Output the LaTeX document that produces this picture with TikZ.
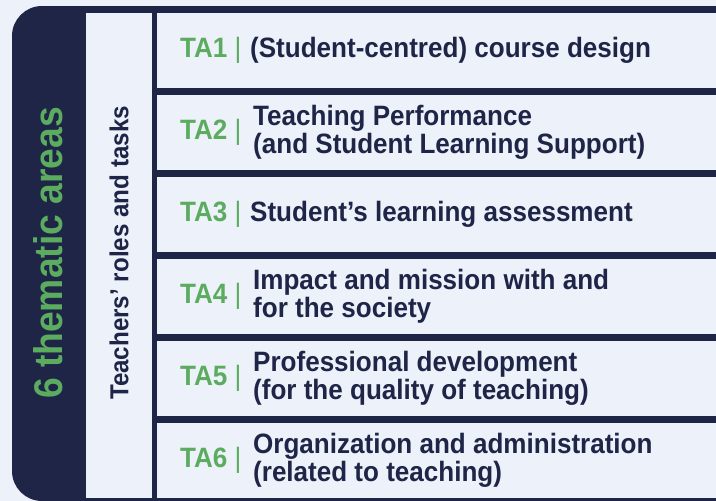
\documentclass[tikz,border=0pt]{standalone}
\usepackage{fontspec}
\setmainfont{Liberation Sans}[FakeStretch=0.93]
\usepackage{tikz}
\definecolor{tanavy}{RGB}{31,37,71}
\definecolor{tagreen}{RGB}{92,172,96}
\definecolor{tabg}{RGB}{236,241,250}
\tikzset{
  talabel/.style={anchor=west,inner sep=0pt,text=tagreen,font=\fontsize{28}{28}\selectfont\bfseries},
  tatext/.style={anchor=west,inner sep=0pt,align=left,text=tanavy,font=\fontsize{28}{27.5}\selectfont\bfseries},
  rowline/.style={tanavy,line width=6.5pt},
}

\begin{document}
\begin{tikzpicture}[x=1pt,y=-1pt]
          \fill [tabg] (0,0) rectangle (716,501);
          \useasboundingbox (0,0) rectangle (716,501);
          \fill [tanavy,rounded corners=30pt] (12,6) rectangle (130,501);
          \fill [tabg] (86,6) rectangle (154,501);
          \draw [rowline] (80,9.5)--(716,9.5);
          \draw [rowline] (80,501.5)--(716,501.5);
          \foreach \y in {91.5,173.5,255.5,337.5,419.5}
            \draw [rowline] (154,\y)--(716,\y);
          \draw [tanavy,line width=5pt] (154.5,6)--(154.5,501);
          \node [rotate=90,inner sep=0pt,text=tagreen,font=\fontsize{40}{40}\selectfont\bfseries] (areas) at (48,253) {6 thematic areas};
          \node [rotate=90,inner sep=0pt,text=tanavy,font=\fontsize{26}{26}\selectfont\bfseries] (roles) at (119,253) {Teachers’ roles and tasks};
          \node [talabel] (l1) at (180,50.5) {TA1 {\mdseries|}};
          \node [talabel] (l2) at (180,132.5) {TA2 {\mdseries|}};
          \node [talabel] (l3) at (180,214.5) {TA3 {\mdseries|}};
          \node [talabel] (l4) at (180,296.5) {TA4 {\mdseries|}};
          \node [talabel] (l5) at (180,378.5) {TA5 {\mdseries|}};
          \node [talabel] (l6) at (180,460.5) {TA6 {\mdseries|}};
          \node [tatext] (t1) at (250,50.5) {(Student-centred) course design};
          \node [tatext] (t2) at (253,132.5) {Teaching Performance\\(and Student Learning Support)};
          \node [tatext] (t3) at (250,214.5) {Student’s learning assessment};
          \node [tatext] (t4) at (253,296.5) {Impact and mission with and\\for the society};
          \node [tatext] (t5) at (253,378.5) {Professional development\\(for the quality of teaching)};
          \node [tatext] (t6) at (253,460.5) {Organization and administration\\(related to teaching)};
        \end{tikzpicture}
\end{document}
